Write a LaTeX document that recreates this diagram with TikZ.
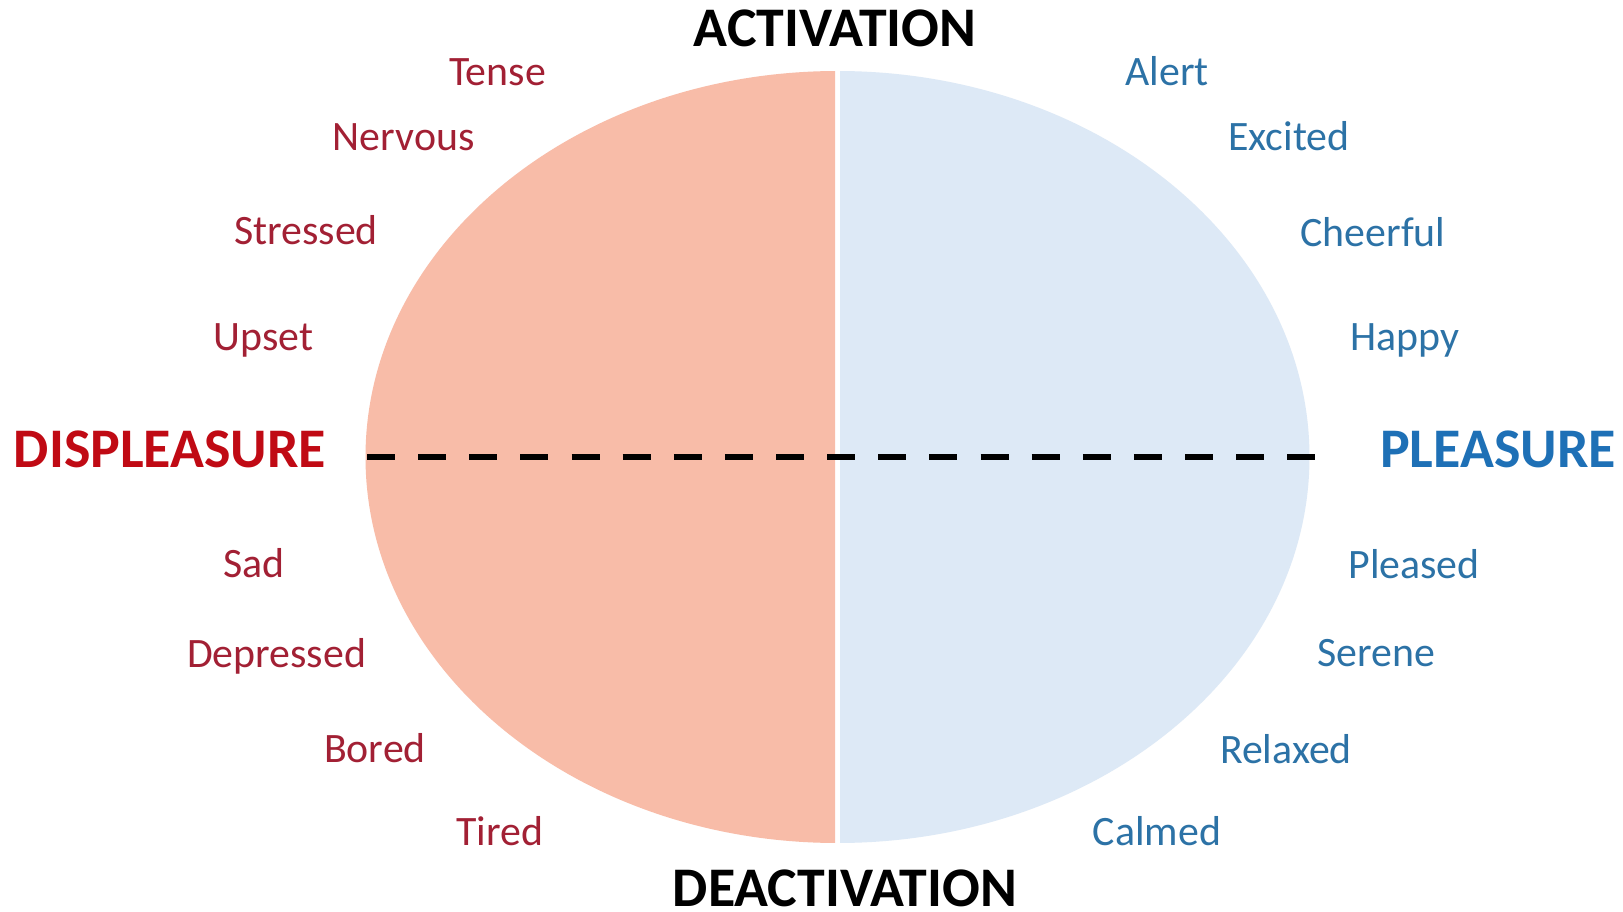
\documentclass[tikz,border=0pt]{standalone}
\usepackage{fontspec}
\setmainfont{Carlito}
\definecolor{salmon}{RGB}{248,188,168}
\definecolor{paleblue}{RGB}{221,233,246}
\definecolor{lred}{RGB}{162,32,52}
\definecolor{lblue}{RGB}{44,114,166}
\definecolor{bigred}{RGB}{192,10,20}
\definecolor{bigblue}{RGB}{30,112,182}
\tikzset{
  small/.style={inner sep=0pt, anchor=base, font=\fontsize{11.9pt}{13pt}\selectfont},
  redlab/.style={small, text=lred},
  bluelab/.style={small, text=lblue},
  big/.style={inner sep=0pt, anchor=base, font=\fontsize{15.9pt}{17pt}\selectfont\bfseries},
  axisline/.style={line width=1.5pt, dash pattern=on 0.28cm off 0.231cm}
}
\begin{document}
\begin{tikzpicture}[x=0.01cm, y=-0.01cm]
\useasboundingbox (0,0) rectangle (1623,912);
\fill[white] (0,0) rectangle (1623,912);
% halves of the ellipse
\begin{scope}
  \clip (0,0) rectangle (835,912);
  \fill[salmon] (837.5,457) ellipse [x radius=472, y radius=386];
\end{scope}
\begin{scope}
  \clip (840,0) rectangle (1623,912);
  \fill[paleblue] (837.5,457) ellipse [x radius=472, y radius=386];
\end{scope}
% axis
\coordinate (dl) at (367,457);
\coordinate (dr) at (1315,457);
\draw[axisline] (dl) -- (dr);
% big labels
\node[big] (act) at (835,47) {ACTIVATION};
\node[big] (deact) at (845,906) {DEACTIVATION};
\node[big, text=bigred] (displ) at (170,467) {DISPLEASURE};
\node[big, text=bigblue] (pleas) at (1498,467) {PLEASURE};
% left labels
\node[redlab] (tense) at (497.5,85) {Tense};
\node[redlab] (nervous) at (403.5,150) {Nervous};
\node[redlab] (stressed) at (306,245) {Stressed};
\node[redlab] (upset) at (263.5,350) {Upset};
\node[redlab] (sad) at (254,577) {Sad};
\node[redlab] (depressed) at (276.5,667) {Depressed};
\node[redlab] (bored) at (375,762) {Bored};
\node[redlab] (tired) at (500,845) {Tired};
% right labels
\node[bluelab] (alert) at (1167,85) {Alert};
\node[bluelab] (excited) at (1289,150) {Excited};
\node[bluelab] (cheerful) at (1373,246) {Cheerful};
\node[bluelab] (happy) at (1405,350) {Happy};
\node[bluelab] (pleased) at (1414,578) {Pleased};
\node[bluelab] (serene) at (1376,666) {Serene};
\node[bluelab] (relaxed) at (1286,763) {Relaxed};
\node[bluelab] (calmed) at (1157,845) {Calmed};
\end{tikzpicture}
\end{document}
